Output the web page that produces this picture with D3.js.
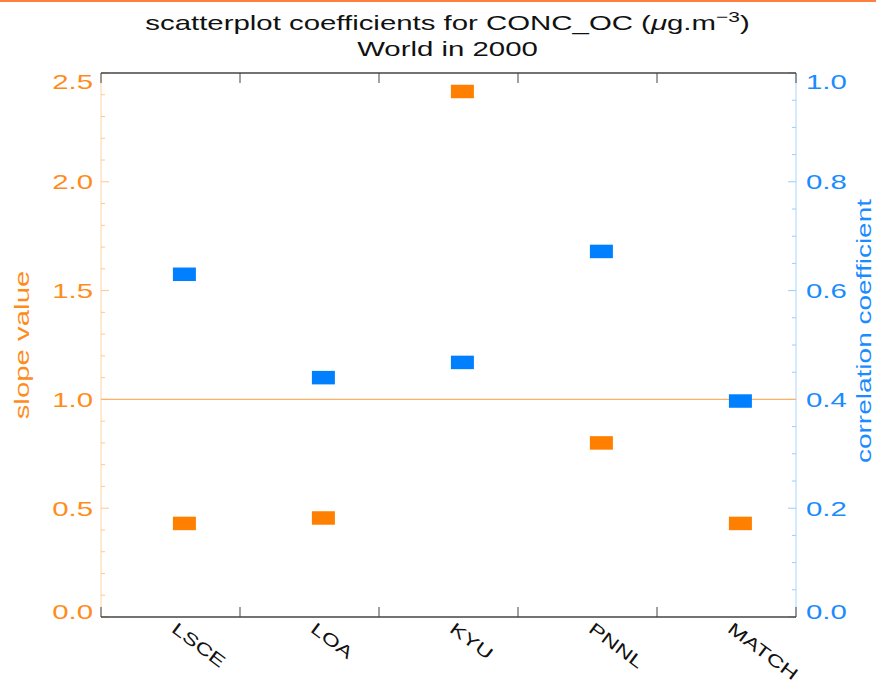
<!DOCTYPE html>
<html>
<head>
<meta charset="utf-8">
<script src="https://cdn.jsdelivr.net/npm/d3@7"></script>
<style>
  body { margin: 0; background: #fff; }
  text { font-family: "Liberation Sans", Arial, sans-serif; }
</style>
</head>
<body>
<div id="vis"></div>
<script>
// Data
const models = ['LSCE', 'LOA', 'KYU', 'PNNL', 'MATCH'];
const slopes = [0.43, 0.455, 2.415, 0.80, 0.43];
const correlations = [0.63, 0.44, 0.468, 0.672, 0.397];
const slopeTicks = [0, 0.5, 1.0, 1.5, 2.0, 2.5];
const corrTicks = [0, 0.2, 0.4, 0.6, 0.8, 1.0];

// Layout
const W = 876, H = 686;
const margin = { top: 73, right: 80, bottom: 69, left: 101 };
const width = W - margin.left - margin.right;   // 695
const height = H - margin.top - margin.bottom;  // 544

const orange = '#ff8000';
const blue = '#0080ff';
const stretch = 1.4; // the original font is drawn wide

const svgRoot = d3.select('#vis').append('svg')
    .attr('width', W)
    .attr('height', H);

// wide text: a group placed at (x, y), rotated, then stretched along the text
function wideText(parent, x, y, angle, size, color, anchor) {
    return parent.append('g')
        .attr('transform', `translate(${x},${y}) rotate(${angle}) scale(${stretch},1)`)
        .append('text')
        .attr('text-anchor', anchor)
        .attr('font-size', size)
        .attr('fill', color);
}

// thin orange strip at the very top of the screenshot
svgRoot.append('rect')
    .attr('x', 0).attr('y', 0)
    .attr('width', W).attr('height', 2)
    .attr('fill', '#ff7f3f');

const svg = svgRoot.append('g')
    .attr('transform', `translate(${margin.left},${margin.top})`);

// Scales
const xScale = d3.scaleLinear().domain([0, models.length]).range([0, width]);
const ySlope = d3.scaleLinear().domain([0, 2.5]).range([height, 0]);
const yCorr = d3.scaleLinear().domain([0, 1]).range([height, 0]);

// Title
const cx = margin.left + width / 2 - 1;
const title = wideText(svgRoot, cx, 30, 0, 21, '#111', 'middle');
title.append('tspan').text('scatterplot coefficients for CONC_OC (');
title.append('tspan').attr('font-style', 'italic').text('μ');
title.append('tspan').text('g.m');
title.append('tspan').attr('dy', -8).attr('font-size', 15).text('−3');
title.append('tspan').attr('dy', 8).text(')');

wideText(svgRoot, cx, 56, 0, 21, '#111', 'middle').text('World in 2000');

// Left axis (slope) - light line, orange ticks
svg.append('line')
    .attr('x1', 0).attr('x2', 0)
    .attr('y1', 0).attr('y2', height)
    .attr('stroke', '#ffd2a6').attr('stroke-width', 1);

const slopeMinor = d3.range(0, 2.51, 0.1).map(d => +d.toFixed(2));
svg.selectAll('.slope-tick')
    .data(slopeMinor)
    .join('line')
    .attr('class', 'slope-tick')
    .attr('x1', 0)
    .attr('x2', d => slopeTicks.includes(d) ? 8 : 4)
    .attr('y1', d => ySlope(d))
    .attr('y2', d => ySlope(d))
    .attr('stroke', '#ffc78f');

slopeTicks.forEach(d => {
    const y = Math.min(Math.max(ySlope(d), 8), height - 6);
    wideText(svg, -8, y, 0, 21, '#ff8c1a', 'end')
        .attr('dy', '0.36em')
        .text(d.toFixed(1));
});

wideText(svgRoot, 29, margin.top + height / 2, -90, 21, '#ff8c1a', 'middle')
    .text('slope value');

// Right axis (correlation) - light blue line, blue ticks
svg.append('line')
    .attr('x1', width).attr('x2', width)
    .attr('y1', 0).attr('y2', height)
    .attr('stroke', '#a8d4ff').attr('stroke-width', 1);

const corrMinor = d3.range(0, 1.001, 0.05).map(d => +d.toFixed(2));
svg.selectAll('.corr-tick')
    .data(corrMinor)
    .join('line')
    .attr('class', 'corr-tick')
    .attr('x1', width)
    .attr('x2', d => corrTicks.includes(d) ? width - 8 : width - 4)
    .attr('y1', d => yCorr(d))
    .attr('y2', d => yCorr(d))
    .attr('stroke', '#9ccaff');

corrTicks.forEach(d => {
    const y = Math.min(Math.max(yCorr(d), 8), height - 6);
    wideText(svg, width + 10, y, 0, 21, '#1a8cff', 'start')
        .attr('dy', '0.36em')
        .text(d.toFixed(1));
});

wideText(svgRoot, 871, 331, -90, 20, '#1a8cff', 'middle')
    .text('correlation coefficient');

// Frame top & bottom with category ticks
const catTicks = d3.range(0, models.length + 1);
[0, height].forEach(y => {
    svg.append('line')
        .attr('x1', 0).attr('x2', width)
        .attr('y1', y).attr('y2', y)
        .attr('stroke', '#444').attr('stroke-width', 1.5);
});
svg.selectAll('.xtick-bottom')
    .data(catTicks)
    .join('line')
    .attr('class', 'xtick-bottom')
    .attr('x1', d => xScale(d)).attr('x2', d => xScale(d))
    .attr('y1', height).attr('y2', height - 10)
    .attr('stroke', '#444');
svg.selectAll('.xtick-top')
    .data(catTicks)
    .join('line')
    .attr('class', 'xtick-top')
    .attr('x1', d => xScale(d)).attr('x2', d => xScale(d))
    .attr('y1', 0).attr('y2', 10)
    .attr('stroke', '#444');

// Category labels, rotated
models.forEach((m, i) => {
    wideText(svg, xScale(i + 0.6) - 14, height + 14, 37, 17, '#111', 'start').text(m);
});

// Reference line at slope = 1
svg.append('line')
    .attr('x1', 0).attr('x2', width)
    .attr('y1', ySlope(1)).attr('y2', ySlope(1))
    .attr('stroke', '#ffb066').attr('stroke-width', 1.2);

// Markers
const mw = 23, mh = 13.5;
svg.selectAll('.slope-pt')
    .data(slopes)
    .join('rect')
    .attr('class', 'slope-pt')
    .attr('x', (d, i) => xScale(i + 0.6) - mw / 2)
    .attr('y', d => ySlope(d) - mh / 2)
    .attr('width', mw).attr('height', mh)
    .attr('fill', orange);

svg.selectAll('.corr-pt')
    .data(correlations)
    .join('rect')
    .attr('class', 'corr-pt')
    .attr('x', (d, i) => xScale(i + 0.6) - mw / 2)
    .attr('y', d => yCorr(d) - mh / 2)
    .attr('width', mw).attr('height', mh)
    .attr('fill', blue);
</script>
</body>
</html>
